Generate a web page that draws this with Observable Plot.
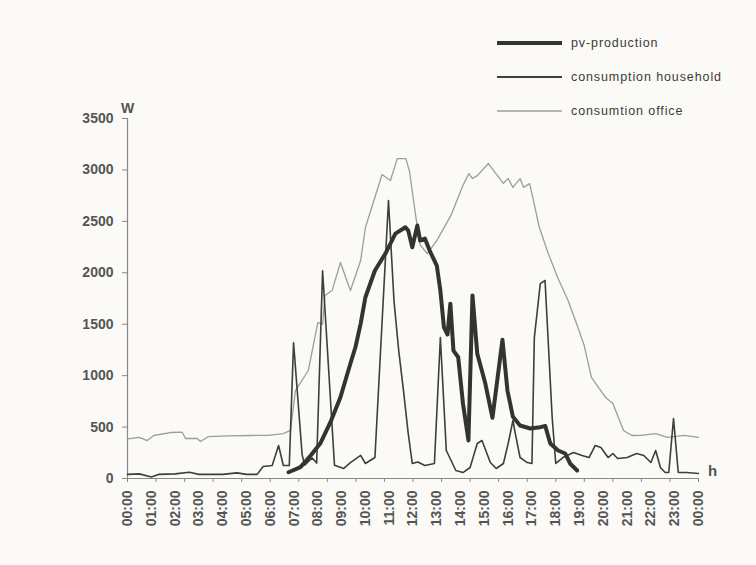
<!DOCTYPE html>
<html><head><meta charset="utf-8">
<script src="https://cdn.jsdelivr.net/npm/d3@7"></script>
<script src="https://cdn.jsdelivr.net/npm/@observablehq/plot@0.6"></script>
<style>
body{margin:0;background:#fbfaf6;font-family:"Liberation Sans",Arial,sans-serif;}
#wrap{position:relative;width:756px;height:565px;}
#legend{position:absolute;left:0;top:0;pointer-events:none;}
</style></head><body><div id="wrap"></div>
<script>
// Series: time in decimal hours, power in W
const officeHours = [0,0.5,0.83,1.1,1.8,2.3,2.44,2.93,3.07,3.4,4.2,5.17,5.9,6.55,6.85,7.06,7.6,8.0,8.2,8.3,8.6,8.95,9.37,9.8,10.0,10.7,11.05,11.34,11.7,11.85,12.1,12.3,12.6,13.0,13.6,14.1,14.35,14.5,14.7,15.17,15.5,15.8,16.0,16.2,16.5,16.65,16.9,17.0,17.3,17.65,18.07,18.5,18.9,19.2,19.5,20.1,20.4,20.85,21.2,21.6,22.2,22.7,23.4,24.0];
const officeW = [386,400,369,418,447,450,389,389,360,408,415,418,420,437,467,855,1050,1516,1500,1779,1827,2100,1827,2119,2440,2955,2897,3110,3110,2990,2576,2270,2187,2313,2560,2850,2965,2916,2945,3062,2960,2870,2916,2830,2916,2830,2867,2770,2450,2210,1960,1740,1490,1290,982,787,729,467,418,420,437,399,420,399];

const householdHours = [0,0.5,1.0,1.3,2.0,2.6,3.0,4.0,4.6,5.0,5.45,5.7,6.08,6.35,6.55,6.8,6.98,7.34,7.45,7.76,7.95,8.2,8.7,9.08,9.37,9.8,10.0,10.4,10.97,11.2,11.4,11.6,11.8,11.97,12.2,12.5,12.9,13.15,13.4,13.8,14.1,14.4,14.7,14.9,15.25,15.5,15.8,16.0,16.2,16.3,16.5,16.8,17.0,17.1,17.35,17.55,17.85,18.0,18.3,18.75,19.1,19.4,19.66,19.9,20.2,20.4,20.6,21.0,21.4,21.7,22.0,22.2,22.4,22.6,22.75,22.95,23.15,23.5,24.0];
const householdW = [40,45,15,40,45,60,40,40,55,40,40,117,126,321,126,126,1320,230,130,200,150,2020,130,97,155,224,146,204,2702,1730,1244,855,437,146,160,126,146,1370,272,78,58,107,340,369,155,97,146,340,564,437,204,155,146,1370,1895,1925,593,146,204,253,224,204,321,301,204,243,194,204,243,224,155,272,107,58,58,583,58,58,49];

const pvHours = [6.77,7.27,7.7,8.1,8.53,8.95,9.37,9.58,9.8,10.0,10.4,10.84,11.26,11.68,11.8,11.97,12.18,12.3,12.5,12.7,13.0,13.15,13.3,13.45,13.57,13.7,13.9,14.1,14.33,14.5,14.7,15.04,15.34,15.76,15.97,16.2,16.5,16.93,17.35,17.56,17.77,18.1,18.4,18.6,18.9];
const pvW = [61,110,224,340,547,790,1118,1276,1506,1762,2022,2187,2381,2443,2410,2248,2459,2313,2333,2216,2070,1827,1470,1400,1700,1244,1179,729,369,1780,1215,923,590,1350,855,600,515,486,499,510,340,272,243,146,78];

const hourTicks = d3.range(0, 25);
const minorTicks = d3.range(0, 21).map(i => i * 1.2);
const yTicks = [0,500,1000,1500,2000,2500,3000,3500];

const seriesNames = ["pv-production", "consumption household", "consumtion office"];

const office = officeHours.map((h, i) => ({h, w: officeW[i]}));
const household = householdHours.map((h, i) => ({h, w: householdW[i]}));
const pv = pvHours.map((h, i) => ({h, w: pvW[i]}));

const fmt = h => String(h % 24).padStart(2, "0") + ":00";

const chart = Plot.plot({
  width: 756, height: 565,
  marginLeft: 127, marginRight: 58, marginTop: 118, marginBottom: 87,
  style: {background: "transparent", fontFamily: "Liberation Sans, Arial, sans-serif", fontSize: "14px", color: "#444", overflow: "visible"},
  x: {domain: [0, 24]},
  y: {domain: [0, 3500]},
  marks: [
    Plot.axisY({ticks: yTicks, tickSize: 5, tickPadding: 9, tickFormat: d => String(d), label: null, stroke: "#888", fill: "#555", fontWeight: "bold", letterSpacing: "1.2px", fontSize: 14}),
    Plot.axisX({ticks: minorTicks, tickSize: 4, tickFormat: () => "", label: null, stroke: "#888"}),
    Plot.axisX({ticks: hourTicks, tickSize: 0, tickPadding: 12, tickRotate: -90, tickFormat: fmt, label: null, fill: "#555", fontWeight: "bold", letterSpacing: "1px", fontSize: 14}),
    Plot.ruleX([0], {stroke: "#888", strokeWidth: 1.2}),
    Plot.ruleY([0], {stroke: "#888", strokeWidth: 1.2}),
    Plot.line(office, {x: "h", y: "w", stroke: "#9d9d9d", strokeWidth: 1.3}),
    Plot.line(household, {x: "h", y: "w", stroke: "#3e3e3e", strokeWidth: 1.6}),
    Plot.line(pv, {x: "h", y: "w", stroke: "#333", strokeWidth: 4, strokeLinejoin: "round"}),
    Plot.text(["W"], {text: d => d, frameAnchor: "top-left", dy: -15, textAnchor: "middle", fontSize: 14, fontWeight: "bold", fill: "#555"}),
    Plot.text(["h"], {text: d => d, frameAnchor: "bottom-right", dx: 14, dy: -3, textAnchor: "middle", fontSize: 15, fontWeight: "bold", fill: "#555"})
  ]
});
const wrap = document.getElementById("wrap");
wrap.appendChild(chart);

// Legend overlay
const legendStyles = [
  {w: 4, c: "#333", y: 43},
  {w: 1.8, c: "#3e3e3e", y: 77},
  {w: 1.3, c: "#9d9d9d", y: 111}
];
const leg = d3.create("svg").attr("id", "legend").attr("width", 756).attr("height", 140);
seriesNames.forEach((name, i) => {
  const s = legendStyles[i];
  leg.append("line").attr("x1", 497).attr("x2", 562).attr("y1", s.y).attr("y2", s.y)
    .attr("stroke", s.c).attr("stroke-width", s.w);
  leg.append("text").attr("x", 571).attr("y", s.y + 1).attr("dominant-baseline", "middle")
    .attr("font-size", 12.5).attr("letter-spacing", "0.9px").attr("fill", "#3a3a3a").text(name);
});
wrap.appendChild(leg.node());
</script>
</body></html>
